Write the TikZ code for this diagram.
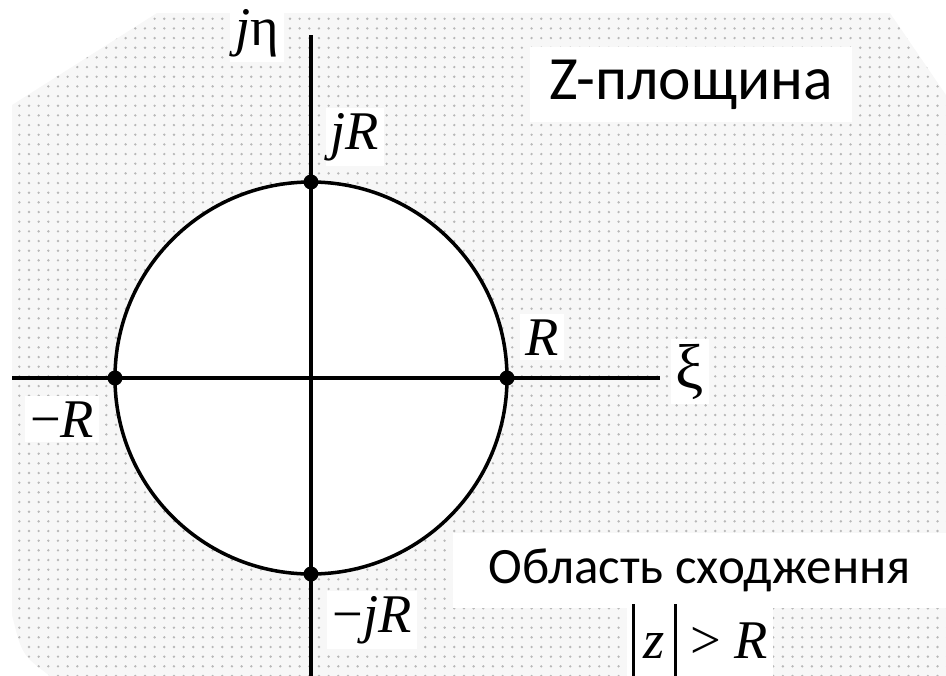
\documentclass[tikz,border=0pt]{standalone}
\usepackage{fontspec}
\setmainfont{Liberation Serif}
\newfontfamily\uafont{Carlito}
\usetikzlibrary{patterns.meta}

\newcommand{\tallbar}{\rule[-0.4em]{0.05em}{1.4em}}

\begin{document}
\begin{tikzpicture}[
    x=0.2mm, y=-0.2mm,
    plane_region/.style={
        preaction={fill=gray!6},
        pattern={Dots[distance=5.5pt, radius=0.75pt]},
        pattern color=black!28
    },
    axis_line/.style={
        draw=black, line width=2pt
    },
    circle_line/.style={
        draw=black, line width=2pt, fill=white
    },
    pole_dot/.style={
        fill=black
    },
    math_label/.style={
        fill=white, inner sep=3pt, anchor=base,
        font=\fontsize{31}{36}\selectfont
    },
    greek_label/.style={
        math_label, font=\fontsize{36}{40}\selectfont
    },
    text_box/.style={
        fill=white, inner sep=0pt,
        minimum height=15mm
    }
]

\useasboundingbox (0,0) rectangle (946,676);
\clip (12,0) rectangle (946,676);

%% ── Region |z| > R ─────────────────────────
\path[plane_region]
    (12,105) -- (157,13) -- (890,13) -- (946,95) -- (946,676)
    -- (50,676) .. controls (22,655) .. (12,615) -- cycle;

%% ── Circle and axes ────────────────────────
\coordinate (O) at (311,378);
\coordinate (xi_start) at (12,378);
\coordinate (xi_end) at (660,378);
\coordinate (eta_start) at (311,35);
\coordinate (eta_end) at (311,676);

\draw[circle_line] (O) circle[radius=39.2mm];
\draw[axis_line] (xi_start) -- (xi_end);
\draw[axis_line] (eta_start) -- (eta_end);

% points on the circle
\foreach \a in {0,90,180,270}{
    \fill[pole_dot] (O) ++(\a:39.2mm) circle[radius=1.5mm];
}

%% ── Labels ─────────────────────────────────
\node[math_label] (lbl_eta) at (257,45) {\textit{j}η};
\node[math_label] (lbl_jR)  at (355,149) {\textit{jR}};
\node[math_label] (lbl_R)   at (542,355) {\textit{R}};
\node[greek_label] (lbl_xi) at (690,388) {ξ};
\node[math_label] (lbl_mR)  at (62,437) {−\textit{R}};
\node[math_label] (lbl_mjR) at (372,632) {−\textit{jR}};

% text boxes
\node[text_box, minimum width=64.4mm, font=\uafont\fontsize{35}{40}\selectfont]
    (box_plane) at (691,84.5) {Z-площина};
\node[text_box, minimum width=98.6mm, font=\uafont\fontsize{29}{34}\selectfont]
    (box_region) at (699.5,570.5) {Область сходження};

\node[math_label] (lbl_cond) at (700,658)
    {\tallbar\,\textit{z}\,\tallbar\ > \textit{R}};

\end{tikzpicture}
\end{document}
